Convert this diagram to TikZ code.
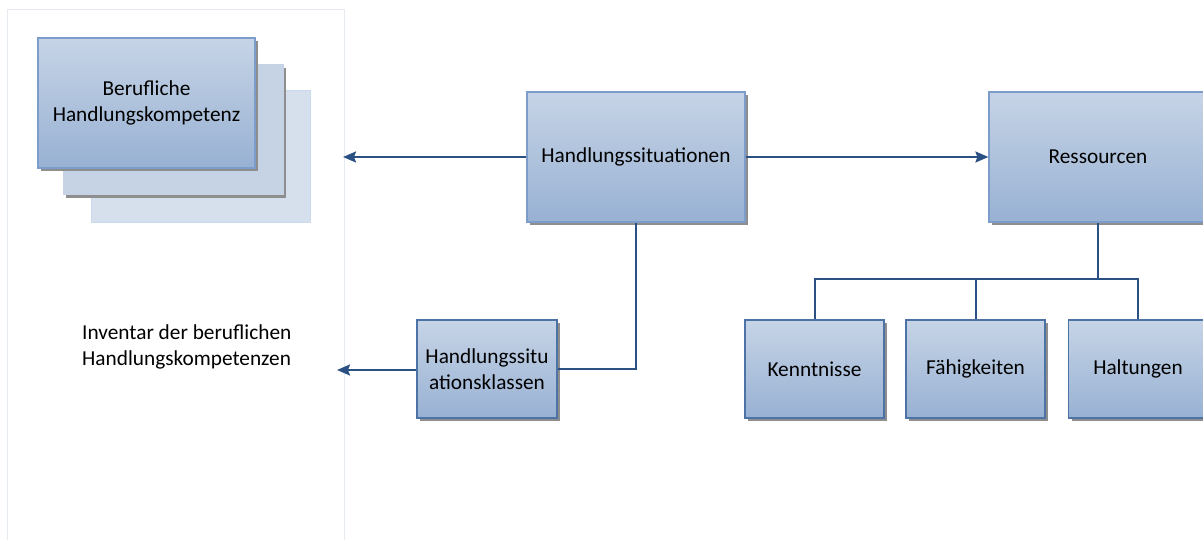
\documentclass[tikz,border=0pt]{standalone}
\usepackage{fontspec}
\setmainfont{Carlito}
\usetikzlibrary{arrows.meta}
\definecolor{btop}{HTML}{C6D4E6}
\definecolor{bbot}{HTML}{98B1D3}
\definecolor{bline}{HTML}{7C9DCB}
\definecolor{sline}{HTML}{4D72A6}
\definecolor{shad}{HTML}{8E8E8E}
\definecolor{conn}{HTML}{2B5184}
\definecolor{panel}{HTML}{E6EBF2}
\definecolor{midfill}{HTML}{C5D3E5}
\definecolor{backfill}{HTML}{D6E0EC}
\definecolor{backline}{HTML}{C9DAF0}
\tikzset{
  x=1pt, y=-1pt,
  every node/.style={font=\fontsize{21.3}{25.5}\selectfont, text=black},
  shadowed/.style={preaction={fill=shad, transform canvas={shift={(3pt,-3pt)}}}},
  boxbig/.style={shadowed, rectangle, draw=bline, line width=1.2pt, top color=btop, bottom color=bbot, minimum width=218pt, minimum height=130pt, align=center, inner sep=0pt},
  boxsmall/.style={shadowed, rectangle, draw=sline, line width=1.2pt, top color=btop, bottom color=bbot, minimum width=139pt, minimum height=98pt, align=center, inner sep=0pt},
  conline/.style={draw=conn, line width=2pt},
  conarrow/.style={conline, -{Stealth[length=13pt,width=11pt,inset=2pt]}},
}
\begin{document}
\begin{tikzpicture}
\useasboundingbox (0,0) rectangle (1203,540);
\begin{scope}
\clip (0,0) rectangle (1203,540);
% left panel
\draw[panel, line width=1pt] (7,10) rectangle (344,560);
% stacked cards
\node[rectangle, draw=backline, line width=1pt, fill=backfill, minimum width=219pt, minimum height=132pt, inner sep=0pt] (card3) at (200.5,157) {};
\node[shadowed, rectangle, draw=midfill, line width=1pt, fill=midfill, minimum width=220pt, minimum height=130pt, inner sep=0pt] (card2) at (173,130) {};
\node[boxbig, minimum width=217pt, text depth=4pt] (card1) at (146.5,103) {Berufliche\\Handlungskompetenz};
% main boxes
\node[boxbig] (hs) at (636,157) {Handlungssituationen};
\node[boxbig] (res) at (1098,157) {Ressourcen};
\node[boxsmall, minimum width=140pt] (hsk) at (487,369) {Handlungssitu\\ationsklassen};
\node[boxsmall] (ken) at (814.5,369) {Kenntnisse};
\node[boxsmall] (fae) at (975.5,369) {Fähigkeiten};
\node[boxsmall] (hal) at (1138,369) {Haltungen};
% text
\node[anchor=west, align=left, inner sep=0pt] (inv) at (82,347) {Inventar der beruflichen\\Handlungskompetenzen};
% connector ends
\coordinate (lefttip1) at (343,157);
\coordinate (lefttip2) at (337,370);
\coordinate (bus) at (1098,279);
% connectors
\draw[conarrow] (hs.west) -- (lefttip1);
\draw[conarrow] (hs.east) -- (res.west);
\draw[conline] (hs.south) |- (hsk.east);
\draw[conarrow] (hsk.west |- 0,370) -- (lefttip2);
\draw[conline] (res.south) -- (bus);
\draw[conline] (ken.north) |- (bus -| hal.north) -- (hal.north);
\draw[conline] (fae.north) -- (fae.north |- bus);
\end{scope}
\end{tikzpicture}
\end{document}
